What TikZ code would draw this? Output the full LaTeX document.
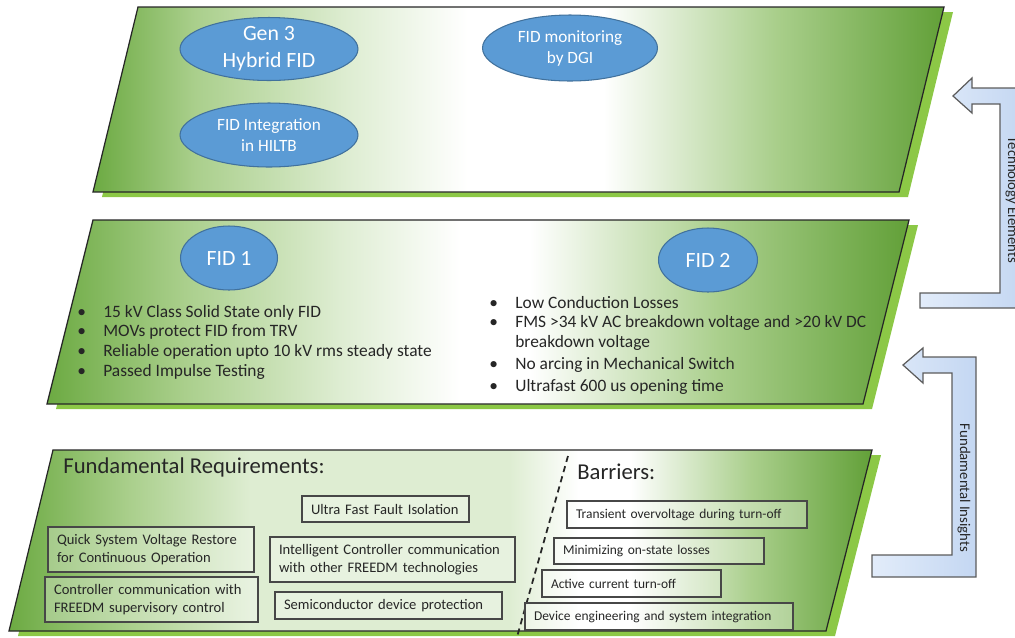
\documentclass[tikz,border=0pt]{standalone}
\usepackage{fontspec}
\setmainfont{Carlito}
\usetikzlibrary{shapes.geometric}

\definecolor{pgreen}{RGB}{108,170,66}
\definecolor{pgreendk}{RGB}{98,160,56}
\definecolor{pgreenmd}{RGB}{170,207,140}
\definecolor{pgreenlt}{RGB}{222,237,210}
\definecolor{pshadow}{RGB}{140,200,70}
\definecolor{fidblue}{RGB}{91,155,213}
\definecolor{fidedge}{RGB}{65,113,156}
\definecolor{arrowlt}{RGB}{226,236,250}
\definecolor{arrowdk}{RGB}{196,215,242}
\definecolor{inkgray}{RGB}{38,38,38}

\pgfdeclarehorizontalshading{toppanel}{100bp}{color(0bp)=(pgreen); color(25bp)=(pgreen); color(31bp)=(pgreenmd); color(40bp)=(pgreenlt); color(47bp)=(white); color(55bp)=(white); color(65bp)=(pgreenmd); color(75bp)=(pgreendk); color(100bp)=(pgreendk)}
\pgfdeclarehorizontalshading{midpanel}{100bp}{color(0bp)=(pgreen); color(25bp)=(pgreen); color(33bp)=(pgreenmd); color(42bp)=(pgreenlt); color(49bp)=(white); color(53bp)=(white); color(64bp)=(pgreenmd); color(75bp)=(pgreendk); color(100bp)=(pgreendk)}
\pgfdeclarehorizontalshading{botpanel}{100bp}{color(0bp)=(pgreen); color(25bp)=(pgreen); color(32bp)=(pgreenmd); color(39bp)=(pgreenlt); color(54bp)=(pgreenlt); color(58bp)=(white); color(61bp)=(white); color(68bp)=(pgreenmd); color(75bp)=(pgreendk); color(100bp)=(pgreendk)}

\tikzset{
  panel/.style={draw=inkgray, line width=0.7pt, shade, shading=#1},
  fid/.style={ellipse, draw=fidedge, line width=0.6pt, fill=fidblue, text=white, align=center, inner sep=0pt},
  fidbig/.style={fid, font=\fontsize{12.4}{15.3}\selectfont},
  fidsmall/.style={fid, font=\fontsize{9.8}{12}\selectfont},
  item/.style={anchor=west, inner sep=0pt, text=inkgray, font=\fontsize{9.9}{11.2}\selectfont},
  head/.style={anchor=west, inner sep=0pt, text=inkgray, font=\fontsize{12.9}{14}\selectfont},
  reqbox/.style={draw=inkgray!85, line width=0.8pt, fill=white, fill opacity=0.3, text opacity=1, text=inkgray, align=left, inner xsep=0.18cm, inner ysep=0pt, font=\fontsize{8.3}{10.2}\selectfont},
  barbox/.style={reqbox, font=\fontsize{7.65}{9}\selectfont},
  bentarrow/.style={draw=inkgray!75, line width=0.7pt, left color=arrowlt, right color=arrowdk},
  arrtxt/.style={rotate=-90, inner sep=0pt, text=inkgray, font=\fontsize{8.4}{9}\selectfont}
}
\newcommand\fidbul{\makebox[0.52cm][l]{\textbullet}}

\begin{document}
\begin{tikzpicture}[x=0.02cm, y=-0.02cm]
    \useasboundingbox (0,0) rectangle (1015,637);
    \clip (0,0) rectangle (1015,637);

    \fill[pshadow, shift={(9,5)}] (138,7) -- (944,7) -- (899,192) -- (93,192) -- cycle;
    \path[panel=toppanel] (138,7) -- (944,7) -- (899,192) -- (93,192) -- cycle;
    \fill[pshadow, shift={(9,5)}] (93,220) -- (909,220) -- (863,404) -- (47,404) -- cycle;
    \path[panel=midpanel] (93,220) -- (909,220) -- (863,404) -- (47,404) -- cycle;
    \fill[pshadow, shift={(9,5)}] (53,450) -- (872,450) -- (826,631) -- (9,631) -- cycle;
    \path[panel=botpanel] (53,450) -- (872,450) -- (826,631) -- (9,631) -- cycle;

    \node[fidbig, minimum width=3.56cm, minimum height=1.24cm] (gen3) at (269,49) {Gen 3\\Hybrid FID};
    \node[fidsmall, minimum width=3.56cm, minimum height=1.28cm] (hiltb) at (269,135) {FID Integration\\in HILTB};
    \node[fidsmall, minimum width=3.5cm, minimum height=1.32cm] (dgi) at (570,48) {FID monitoring\\by DGI};
    \node[fidbig, minimum width=1.94cm, minimum height=1.28cm] (fid1) at (229,258) {FID 1};
    \node[fidbig, minimum width=1.98cm, minimum height=1.28cm] (fid2) at (708,260) {FID 2};

    \node[item] (fida) at (77,313) {\fidbul 15 kV Class Solid State only FID};
    \node[item] (fidb) at (77,332) {\fidbul MOVs protect FID from TRV};
    \node[item] (fidc) at (77,352) {\fidbul Reliable operation upto 10 kV rms steady state};
    \node[item] (fidd) at (77,372) {\fidbul Passed Impulse Testing};

    \node[item] (fme) at (489,303) {\fidbul Low Conduction Losses};
    \node[item] (fmf) at (489,323) {\fidbul FMS >34 kV AC breakdown voltage and >20 kV DC};
    \node[item] (fmg) at (515,343) {breakdown voltage};
    \node[item] (fmh) at (489,365) {\fidbul No arcing in Mechanical Switch};
    \node[item] (fmi) at (489,387) {\fidbul Ultrafast 600 us opening time};

    \node[head] (reqhead) at (63,467) {Fundamental Requirements:};
    \node[head] (barhead) at (577,472) {Barriers:};

    \node[reqbox, text width=2.98cm, minimum height=0.52cm] (ultra) at (385.5,509) {Ultra Fast Fault Isolation};
    \node[reqbox, text width=3.76cm, minimum height=0.9cm] (quick) at (151,549.5) {Quick System Voltage Restore\\for Continuous Operation};
    \node[reqbox, text width=3.9cm, minimum height=0.9cm] (ctrl) at (151.5,599.5) {Controller communication with\\FREEDM supervisory control};
    \node[reqbox, text width=4.54cm, minimum height=0.9cm] (intel) at (392.5,559.5) {Intelligent Controller communication\\with other FREEDM technologies};
    \node[reqbox, text width=4.18cm, minimum height=0.54cm] (semi) at (388.5,605.5) {Semiconductor device protection};

    \coordinate (dtop) at (568,456);
    \coordinate (dbot) at (517,637);
    \draw[inkgray, line width=1pt, dash pattern=on 3.5pt off 2.5pt] (dtop) -- (dbot);

    \node[barbox, text width=4.44cm, minimum height=0.54cm] (trans) at (687,514.5) {Transient overvoltage during turn-off};
    \node[barbox, text width=3.84cm, minimum height=0.52cm] (minim) at (659,551) {Minimizing on-state losses};
    \node[barbox, text width=3.22cm, minimum height=0.54cm] (active) at (631.5,583.5) {Active current turn-off};
    \node[barbox, text width=5cm, minimum height=0.54cm] (device) at (659,616.5) {Device engineering and system integration};

    \path[bentarrow] (953,96) -- (972,78) -- (972,88) -- (1024,88) -- (1024,308) -- (920,308) -- (920,293) -- (1000,293) -- (1000,104) -- (972,104) -- (972,113) -- cycle;
    \path[bentarrow] (903,365) -- (923,348) -- (923,357) -- (976,357) -- (976,577) -- (872,577) -- (872,555) -- (952,555) -- (952,373) -- (923,373) -- (923,383) -- cycle;
    \node[arrtxt] (tech) at (1012,200) {Technology Elements};
    \node[arrtxt] (insight) at (964,488) {Fundamental Insights};
\end{tikzpicture}
\end{document}
